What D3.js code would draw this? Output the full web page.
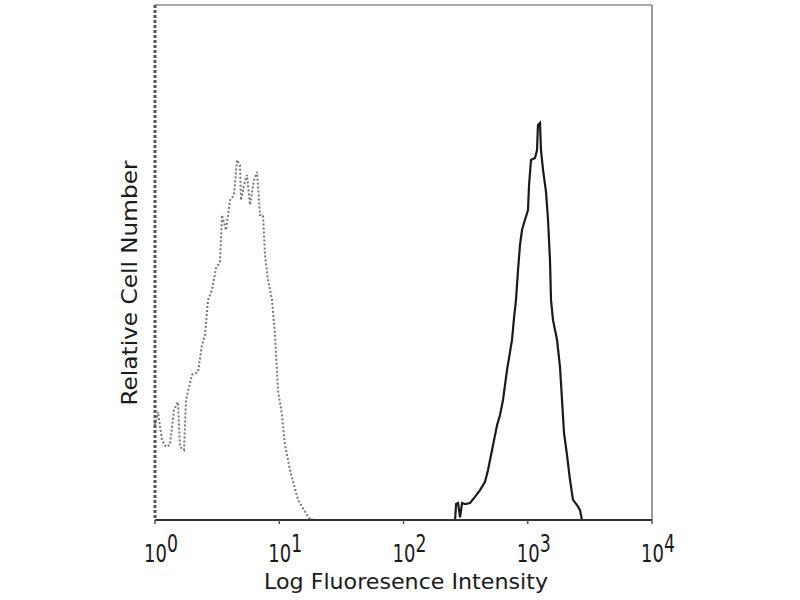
<!DOCTYPE html>
<html>
<head>
<meta charset="utf-8">
<style>
  body { margin: 0; background: #fff; }
  svg { display: block; }
</style>
</head>
<body>
<svg width="800" height="600"></svg>
<script src="https://cdn.jsdelivr.net/npm/d3@7/dist/d3.min.js"></script>
<script>
// Isotype control (gray, dotted) - fluorescence value / relative count
const ctrlX = [1.00, 1.057, 1.138, 1.226, 1.32, 1.422, 1.531, 1.589, 1.712, 1.776, 1.986, 2.219, 2.389, 2.526,
  2.671, 2.876, 3.097, 3.335, 3.461, 3.728, 4.014, 4.323, 4.571, 4.832, 4.923, 5.204, 5.501, 5.816, 6.263,
  6.622, 7.002, 7.401, 7.68, 8.121, 8.745, 9.244, 9.77, 10.52, 11.12, 12.21, 13.14, 14.16, 15.82, 17.35, 19.05];
const ctrlY = [18.4, 21.0, 15.5, 14.2, 14.6, 21.4, 22.9, 14.2, 13.6, 23.3, 28.2, 28.7, 34.0, 35.9,
  42.7, 44.7, 48.9, 50.1, 59.2, 56.3, 62.1, 63.1, 69.9, 68.9, 62.1, 65.0, 67.0, 61.2, 66.0,
  67.6, 59.2, 59.2, 51.5, 46.6, 42.7, 35.9, 25.2, 20.4, 14.6, 9.7, 6.8, 3.9, 1.9, 0.4, 0];

// Stained sample (black, solid)
const stainX = [260, 265, 275, 285, 296, 313, 343, 376, 413, 453, 479, 516, 566, 598, 632, 681, 747, 775,
  804, 835, 866, 899, 950, 1005, 1024, 1062, 1144, 1187, 1209, 1255, 1278, 1327, 1403, 1456, 1510, 1539,
  1597, 1720, 1818, 1887, 1958, 2070, 2188, 2313, 2492, 2634, 2733];
const stainY = [0, 3.1, 3.3, 0.5, 3.3, 3.1, 3.3, 4.5, 5.8, 7.4, 9.7, 13.6, 18.4, 20.4, 23.3, 29.1, 35.0, 39.2,
  42.7, 48.5, 53.4, 56.3, 58.3, 60.2, 65.0, 69.9, 70.3, 71.8, 76.7, 77.1, 71.8, 68.0, 63.7, 58.3, 50.5, 42.7,
  38.8, 35.0, 29.7, 23.3, 16.9, 12.6, 7.8, 3.9, 2.9, 1.9, 0];

const decades = [0, 1, 2, 3, 4];
const xTitle = 'Log Fluoresence Intensity';
const yTitle = 'Relative Cell Number';

const m = {left: 155, right: 652, top: 5, bottom: 520};
const x = d3.scaleLog().domain([1, 10000]).range([m.left, m.right]);
const y = d3.scaleLinear().domain([0, 100]).range([m.bottom, m.top]);

const svg = d3.select('svg');
const font = 'DejaVu Sans, sans-serif';

// frame
svg.append('line').attr('x1', m.left).attr('x2', m.right).attr('y1', m.top).attr('y2', m.top)
  .attr('stroke', '#aaa').attr('stroke-width', 2);
svg.append('line').attr('x1', m.right).attr('x2', m.right).attr('y1', m.top).attr('y2', m.bottom)
  .attr('stroke', '#999').attr('stroke-width', 2);
svg.append('line').attr('x1', m.left).attr('x2', m.left).attr('y1', m.top).attr('y2', m.bottom)
  .attr('stroke', '#555').attr('stroke-width', 3).attr('stroke-dasharray', '3,2');

const line = d3.line().x(d => x(d[0])).y(d => y(d[1]));

svg.append('path')
  .datum(ctrlX.map((v, i) => [v, ctrlY[i]]))
  .attr('fill', 'none')
  .attr('stroke', '#777')
  .attr('stroke-width', 2)
  .attr('stroke-dasharray', '2,2')
  .attr('d', line);

svg.append('path')
  .datum(stainX.map((v, i) => [v, stainY[i]]))
  .attr('fill', 'none')
  .attr('stroke', '#1a1a1a')
  .attr('stroke-width', 2.2)
  .attr('d', line);

// bottom axis
svg.append('line').attr('x1', m.left).attr('x2', m.right).attr('y1', m.bottom).attr('y2', m.bottom)
  .attr('stroke', '#333').attr('stroke-width', 2);

const ticks = svg.append('g');
ticks.selectAll('line').data(decades).enter().append('line')
  .attr('x1', d => x(Math.pow(10, d))).attr('x2', d => x(Math.pow(10, d)))
  .attr('y1', m.bottom).attr('y2', m.bottom + 4)
  .attr('stroke', '#555').attr('stroke-width', 1.5);

// tick labels: tall, narrow glyphs like the original
const lab = ticks.selectAll('g.lab').data(decades).enter().append('g')
  .attr('class', 'lab')
  .attr('transform', d => 'translate(' + (x(Math.pow(10, d)) - 11) + ',562) scale(0.72,1)');
const t = lab.append('text')
  .attr('font-family', font)
  .attr('font-size', 25)
  .attr('fill', '#1a1a1a');
t.append('tspan').text('10');
t.append('tspan').attr('dy', -10).attr('font-size', 24).text(d => d);

svg.append('text')
  .attr('x', 406)
  .attr('y', 589)
  .attr('text-anchor', 'middle')
  .attr('font-family', font)
  .attr('font-size', 21)
  .attr('textLength', 284)
  .attr('lengthAdjust', 'spacingAndGlyphs')
  .attr('fill', '#1a1a1a')
  .text(xTitle);

svg.append('text')
  .attr('transform', 'translate(137,283) rotate(-90)')
  .attr('text-anchor', 'middle')
  .attr('font-family', font)
  .attr('font-size', 21)
  .attr('textLength', 245)
  .attr('lengthAdjust', 'spacingAndGlyphs')
  .attr('fill', '#1a1a1a')
  .text(yTitle);
</script>
</body>
</html>
